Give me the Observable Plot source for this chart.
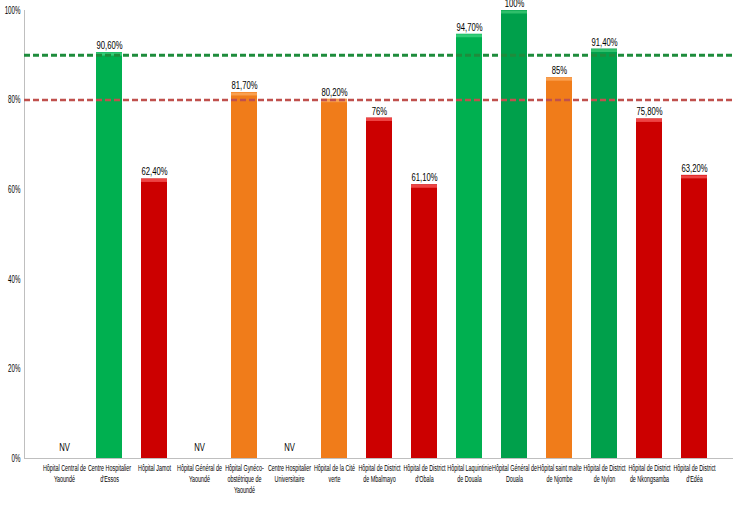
<!DOCTYPE html>
<html>
<head>
<meta charset="utf-8">
<script src="https://cdn.jsdelivr.net/npm/d3@7"></script>
<script src="https://cdn.jsdelivr.net/npm/@observablehq/plot@0.6"></script>
<style>
  html, body { margin: 0; padding: 0; background: #fff; }
  #chart { width: 733px; height: 506px; }
</style>
</head>
<body>
<div id="chart"></div>
<script>
const hospitals = [
  "Hôpital Central de\nYaoundé",
  "Centre Hospitalier\nd'Essos",
  "Hôpital Jamot",
  "Hôpital Général de\nYaoundé",
  "Hôpital Gynéco-\nobstétrique de\nYaoundé",
  "Centre Hospitalier\nUniversitaire",
  "Hôpital de la Cité\nverte",
  "Hôpital de District\nde Mbalmayo",
  "Hôpital de District\nd'Obala",
  "Hôpital Laquintinie\nde Douala",
  "Hôpital Général de\nDouala",
  "Hôpital saint malte\nde Njombe",
  "Hôpital de District\nde Nylon",
  "Hôpital de District\nde Nkongsamba",
  "Hôpital de District\nd'Edéa"
];
const values = [null, 90.6, 62.4, null, 81.7, null, 80.2, 76, 61.1, 94.7, 100, 85, 91.4, 75.8, 63.2];
const valueLabels = ["NV", "90,60%", "62,40%", "NV", "81,70%", "NV", "80,20%", "76%", "61,10%", "94,70%", "100%", "85%", "91,40%", "75,80%", "63,20%"];
const barColors = ["#ffffff", "#00b050", "#cc0000", "#ffffff", "#f07c1a", "#ffffff", "#f07c1a", "#cc0000", "#cc0000", "#00b050", "#00a04b", "#f07c1a", "#00a04b", "#cc0000", "#cc0000"];
const capColors = ["#ffffff", "#33cc77", "#ee4444", "#ffffff", "#f9a050", "#ffffff", "#f9a050", "#ee4444", "#ee4444", "#33cc77", "#2fbf6a", "#f9a050", "#2fbf6a", "#ee4444", "#ee4444"];
const targetGreen = 90;
const targetRed = 80;
const yTicks = [0, 20, 40, 60, 80, 100];

const data = hospitals.map((h, i) => ({name: h, value: values[i], label: valueLabels[i], color: barColors[i], cap: capColors[i]}));
const present = data.filter(d => d.value != null);
const missing = data.filter(d => d.value == null);

const FONT = '"Liberation Sans", Arial, sans-serif';

const chart = Plot.plot({
  width: 733,
  height: 506,
  marginLeft: 24,
  marginRight: 0,
  marginTop: 10,
  marginBottom: 48,
  style: {fontFamily: FONT, fontSize: "9px", color: "#000", overflow: "visible"},
  x: {domain: hospitals, padding: 0.43, label: null},
  y: {domain: [0, 100], label: null},
  marks: [
    Plot.ruleY([0], {stroke: "#bfbfbf", strokeWidth: 1}),
    Plot.barY(present, {x: "name", y: "value", fill: d => d.color}),
    Plot.tickY(present, {x: "name", y: "value", stroke: d => d.cap, strokeWidth: 3, dy: 1.5}),
    Plot.axisY({ticks: yTicks, tickFormat: d => d + "%", tickSize: 0, tickPadding: 4, fontSize: 10, label: null}),
    Plot.ruleY([targetGreen], {stroke: "#1e8c3c", strokeWidth: 3, strokeDasharray: "6,3"}),
    Plot.ruleY([targetRed], {stroke: "#c0504d", strokeWidth: 2.5, strokeDasharray: "6,3"}),
    Plot.axisX({tickSize: 0, tickPadding: 5, fontSize: 9, lineHeight: 1.22, label: null}),
    Plot.text(present, {x: "name", y: "value", text: "label", dy: -7, fontSize: 11, fill: "#000"}),
    Plot.text(missing, {x: "name", y: 0, text: "label", dy: -11, fontSize: 11, fill: "#000"})
  ]
});

document.getElementById("chart").appendChild(chart);

// left axis line using the plot's y scale
const ys = chart.scale("y");
d3.select(chart).insert("line", ":first-child")
  .attr("x1", 24.5).attr("x2", 24.5)
  .attr("y1", ys.range[0]).attr("y2", ys.range[1])
  .attr("stroke", "#bfbfbf");

// condense text horizontally (narrow font look)
function condense(sel, k) {
  d3.select(chart).selectAll(sel).each(function() {
    const t = this.getAttribute("transform");
    if (t) this.setAttribute("transform", t + ` scale(${k},1)`);
  });
}
condense('g[aria-label="x-axis tick label"] text', 0.6);
condense('g[aria-label="y-axis tick label"] text', 0.62);
condense('g[aria-label="text"] text', 0.7);
</script>
</body>
</html>
